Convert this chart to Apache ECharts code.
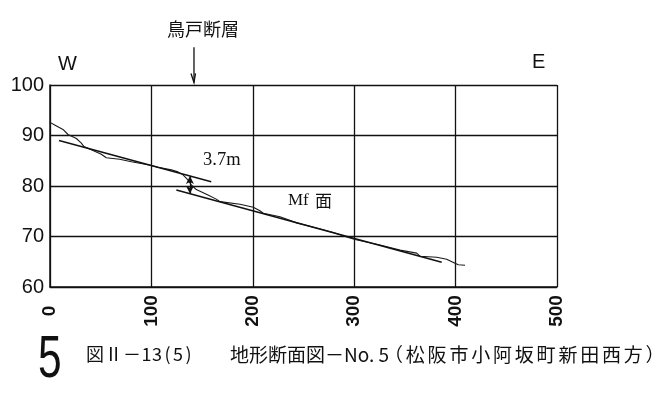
<!DOCTYPE html>
<html>
<head>
<meta charset="utf-8">
<script src="https://cdn.jsdelivr.net/npm/echarts@6/dist/echarts.min.js"></script>
<style>
html,body{margin:0;padding:0;background:#fff;}
#c{width:658px;height:393px;}
</style>
</head>
<body>
<div id="c"></div>
<script>
// distance (m) along the section and ground elevation (m)
var profileX = [0, 4.6, 12.8, 17.7, 26, 30.9, 33.5, 44, 50.6, 55.5, 68.7, 80.2, 96.6, 106.5, 119.6, 126.2, 131.2, 136, 139.4, 144.3, 155.8, 164, 167.7, 187.4, 200.5, 207, 210.4, 226.8, 243.3, 263, 279.4, 294.2, 300.8, 325.4, 345.2, 361.6, 364.9, 381.4, 391.2, 399.4, 402.7, 409.3];
var profileY = [92.6, 92.1, 91.2, 90.2, 89.4, 88.5, 87.8, 86.9, 86.3, 85.6, 85.3, 84.8, 84.2, 83.7, 83.2, 82.8, 82.2, 81.2, 80.2, 79.3, 78.2, 77.4, 76.9, 76.4, 75.8, 75.1, 74.6, 73.9, 72.7, 71.7, 70.8, 69.8, 69.4, 68.3, 67.3, 66.7, 66.1, 65.9, 65.5, 64.7, 64.4, 64.3];
// reconstructed terrace surfaces (upthrown / downthrown)
var upperSurfaceX = [8.9, 159];
var upperSurfaceY = [89.0, 80.85];
var lowerSurfaceX = [124.6, 386.3];
var lowerSurfaceY = [79.2, 64.9];
// offset measurement and fault position
var offsetX = 138;
var offsetTop = 82.0;
var offsetBottom = 78.47;
var faultX = 142;
var faultArrowTop = 107.5;
var faultArrowBottom = 100.5;
var xTicks = [0, 100, 200, 300, 400, 500];
var yTicks = [60, 70, 80, 90, 100];

function pairs(xs, ys){ return xs.map(function(x,i){ return [x, ys[i]]; }); }

var chart = echarts.init(document.getElementById('c'), null, {renderer:'canvas'});
var sans = '"Liberation Sans",Arial,sans-serif';
var cjk = '"Noto Sans CJK JP","Noto Sans",sans-serif';

function spaced(chars, w){
  return chars.map(function(ch, i){ return '{' + w[i] + '|' + ch + '}'; }).join('');
}
var cap2Chars = '（松阪市小阿坂町新田西方）'.split('');
var cap2Rich = spaced(cap2Chars, cap2Chars.map(function(){ return 'f'; }));
var cap1Chars = ['図','Ⅱ','－','1','3','(','5',')'];
var cap1Rich = spaced(cap1Chars, ['f','f','f','h','h','h','h','h']);

chart.setOption({
  animation: false,
  backgroundColor: '#fff',
  grid: {left: 50, right: 101, top: 85, bottom: 106, containLabel: false},
  xAxis: {
    type: 'value', min: xTicks[0], max: xTicks[xTicks.length-1], interval: 100,
    axisLine: {show: true, lineStyle: {color: '#111', width: 1.5}},
    axisTick: {show: false},
    splitLine: {show: true, lineStyle: {color: '#111', width: 1.3}},
    axisLabel: {
      rotate: 90, align: 'center', verticalAlign: 'middle', margin: 24,
      color: '#111', fontFamily: sans, fontSize: 19, fontWeight: 'bold'
    }
  },
  yAxis: {
    type: 'value', min: yTicks[0], max: yTicks[yTicks.length-1], interval: 10,
    axisLine: {show: true, lineStyle: {color: '#111', width: 1.5}},
    axisTick: {show: false},
    splitLine: {show: true, lineStyle: {color: '#111', width: 1.3}},
    axisLabel: {margin: 6, color: '#111', fontFamily: sans, fontSize: 20}
  },
  series: [
    {
      type: 'line', name: 'profile', data: pairs(profileX, profileY),
      symbol: 'none', smooth: false,
      lineStyle: {color: '#1a1a1a', width: 1.1}
    },
    {
      type: 'line', name: 'upper', data: pairs(upperSurfaceX, upperSurfaceY),
      symbol: 'none', clip: false,
      lineStyle: {color: '#111', width: 1.5},
      markLine: {
        silent: true, symbol: ['arrow', 'arrow'], symbolSize: [6, 8],
        label: {show: false},
        lineStyle: {color: '#111', width: 1.2, type: 'solid'},
        data: [
          [{coord: [offsetX, offsetTop]}, {coord: [offsetX, offsetBottom]}]
        ]
      }
    },
    {
      type: 'line', name: 'lower', data: pairs(lowerSurfaceX, lowerSurfaceY),
      symbol: 'none', clip: false,
      lineStyle: {color: '#111', width: 1.5}
    }
  ]
});

var pTop = chart.convertToPixel({gridIndex: 0}, [faultX, faultArrowTop]);
var pBot = chart.convertToPixel({gridIndex: 0}, [faultX, faultArrowBottom]);

chart.setOption({
  graphic: [
    {type: 'line', shape: {x1: pTop[0], y1: pTop[1], x2: pBot[0], y2: pBot[1]},
      style: {stroke: '#111', lineWidth: 1.3}},
    {type: 'polyline', shape: {points: [[pBot[0] - 3, pBot[1] - 9], [pBot[0], pBot[1]], [pBot[0] + 1.5, pBot[1] - 9]]},
      style: {stroke: '#111', lineWidth: 1.3, fill: null}},
    {type: 'text', left: 167, top: 20, style: {text: '鳥戸断層', font: '18px ' + cjk, fill: '#111'}},
    {type: 'text', left: 58, top: 54, style: {text: 'W', font: '20px ' + sans, fill: '#111'}},
    {type: 'text', left: 532, top: 52, style: {text: 'E', font: '20px ' + sans, fill: '#111'}},
    {type: 'text', left: 203, top: 151, style: {text: '3.7m', font: '18.5px "Liberation Serif",serif', fill: '#111'}},
    {type: 'text', left: 288, top: 192, style: {text: 'Mf', font: '17px "Liberation Serif",serif', fill: '#111'}},
    {type: 'text', left: 315, top: 192, style: {text: '面', font: '17px ' + cjk, fill: '#111'}},
    {type: 'text', x: 38, y: 331, scaleX: 0.72, scaleY: 1,
      style: {text: '5', font: '59px ' + sans, fill: '#111', align: 'left', verticalAlign: 'top'}},
    {type: 'text', left: 86, top: 345, style: {text: cap1Rich, font: '18px ' + cjk, fill: '#111',
      rich: {f: {width: 18.5, align: 'center', font: '18px ' + cjk, fill: '#111'},
             h: {width: 10.5, align: 'center', font: '18px ' + cjk, fill: '#111'}}}},
    {type: 'text', left: 230, top: 345, style: {text: '地形断面図－No. 5', font: '19px ' + cjk, fill: '#111'}},
    {type: 'text', left: 384, top: 345, style: {text: cap2Rich, font: '19px ' + cjk, fill: '#111',
      rich: {f: {width: 21.8, align: 'center', font: '19px ' + cjk, fill: '#111'}}}}
  ]
});
</script>
</body>
</html>
